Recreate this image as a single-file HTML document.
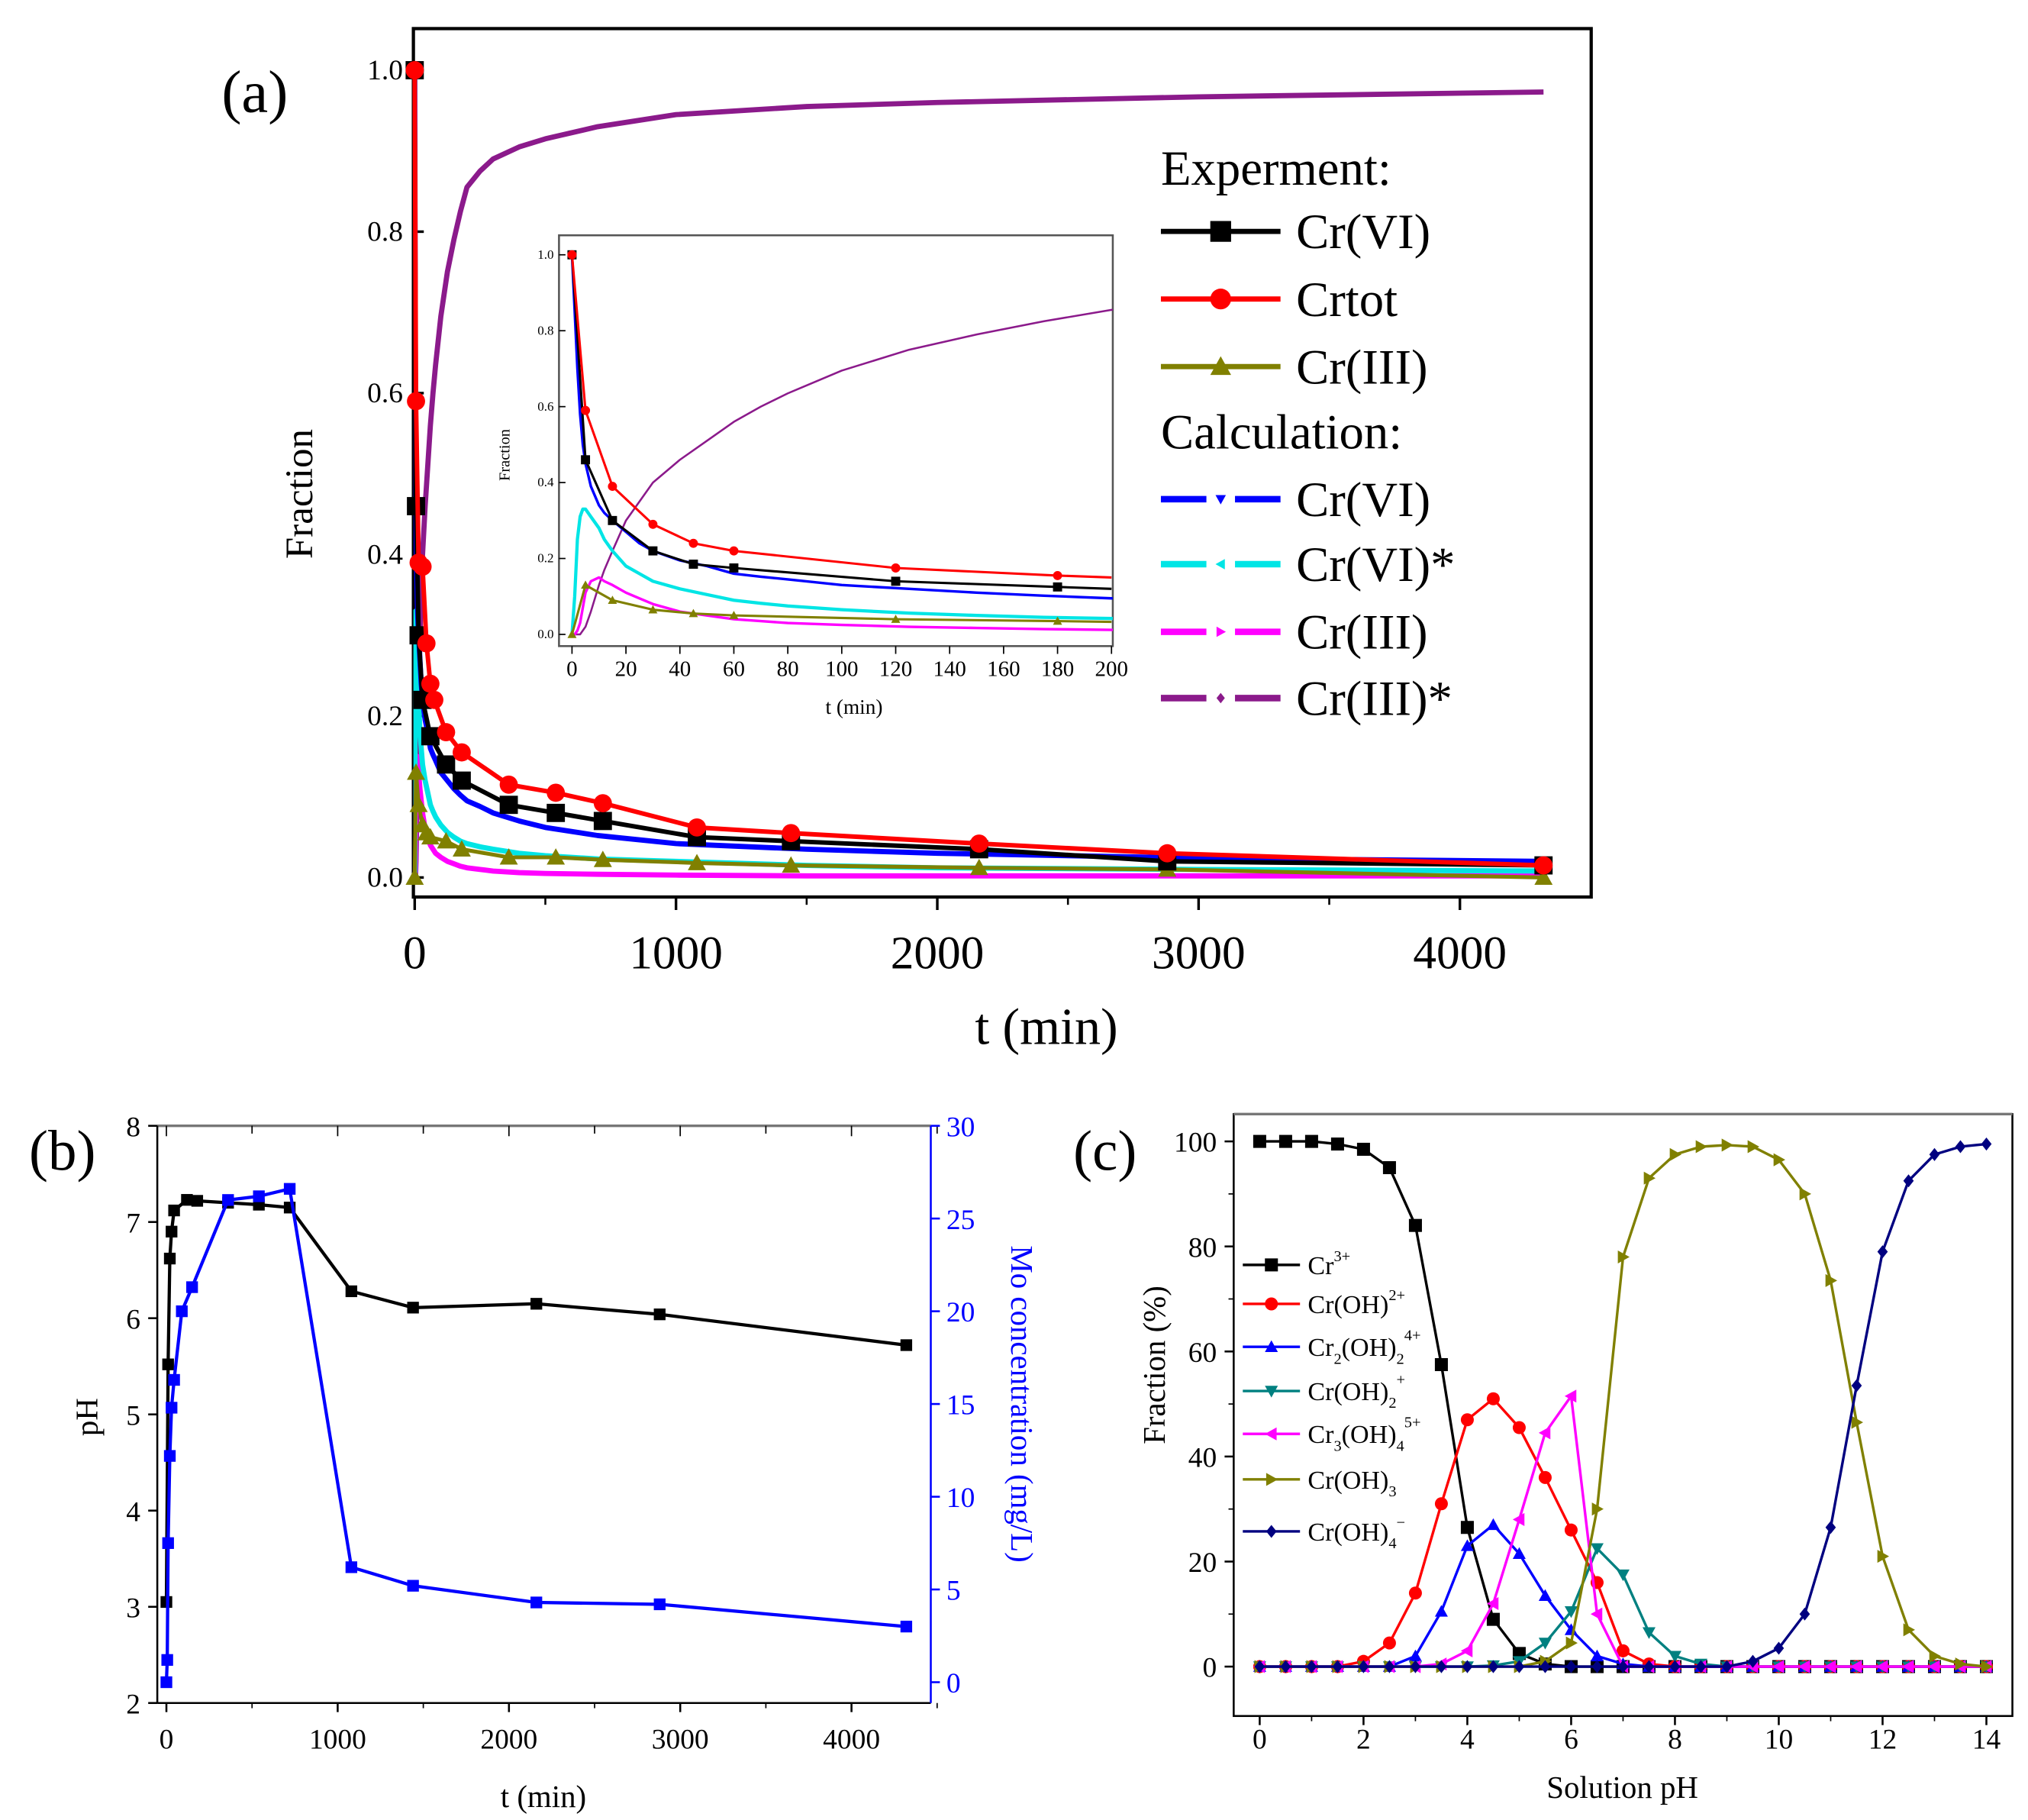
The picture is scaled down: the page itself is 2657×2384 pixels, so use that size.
<!DOCTYPE html>
<html><head><meta charset="utf-8"><style>
html,body{margin:0;padding:0;background:#fff}
svg{display:block}
text{font-family:"Liberation Serif",serif}
</style></head><body>
<svg id="fig" xmlns="http://www.w3.org/2000/svg" width="2657" height="2384" viewBox="0 0 1560 1400" preserveAspectRatio="none">
<rect width="1560" height="1400" fill="#fff"/>
<g id="pa"></g>
<g id="pb"></g>
<g id="pc"></g>
</svg>
<script>
// ---- Panel (a) data ----
const expT_VI = [0,5,15,30,60,120,180,360,540,720,1080,1440,2160,2880,4320];
const expVI = [1.0,0.46,0.30,0.22,0.175,0.14,0.12,0.09,0.08,0.07,0.05,0.045,0.035,0.02,0.015];
const expT_tot = [0,5,15,30,45,60,75,120,180,360,540,720,1080,1440,2160,2880,4320];
const expTot = [1.0,0.59,0.39,0.385,0.29,0.24,0.22,0.18,0.155,0.115,0.105,0.092,0.062,0.055,0.042,0.03,0.015];
const expT_III = [0,5,15,30,45,60,120,180,360,540,720,1080,1440,2160,2880,4320];
const expIII = [0,0.13,0.09,0.065,0.055,0.05,0.045,0.035,0.025,0.025,0.022,0.018,0.015,0.012,0.01,0];
const insetT_VI = [0,5,15,30,45,60,120,180];
const insetVI = [1.0,0.46,0.30,0.22,0.185,0.175,0.14,0.125];
const insetT_tot = [0,5,15,30,45,60,120,180];
const insetTot = [1.0,0.59,0.39,0.29,0.24,0.22,0.175,0.155];
const insetT_III = [0,5,15,30,45,60,120,180];
const insetIII = [0,0.13,0.09,0.065,0.055,0.05,0.04,0.035];
const calcT = [0,1,2,3,4,5,7,10,12,15,20,25,30,40,50,60,70,80,100,125,150,175,200,250,300,400,500,700,1000,1500,2000,3000,4320];
const calcVI = [1,0.85,0.7,0.58,0.5,0.45,0.39,0.34,0.32,0.3,0.27,0.24,0.22,0.195,0.18,0.16,0.152,0.145,0.13,0.12,0.11,0.102,0.095,0.088,0.08,0.07,0.062,0.052,0.042,0.035,0.03,0.024,0.02];
const calcVIs = [0,0.1,0.25,0.31,0.33,0.33,0.31,0.28,0.25,0.22,0.18,0.16,0.14,0.12,0.105,0.09,0.082,0.075,0.065,0.056,0.05,0.045,0.042,0.038,0.035,0.03,0.027,0.023,0.02,0.015,0.012,0.01,0.008];
const calcIII = [0,0,0.01,0.03,0.07,0.11,0.14,0.15,0.14,0.13,0.11,0.095,0.08,0.06,0.05,0.04,0.035,0.03,0.025,0.02,0.017,0.014,0.012,0.01,0.008,0.006,0.005,0.004,0.003,0.002,0.002,0.002,0.002];
const calcIIIs = [0,0,0,0,0.01,0.02,0.06,0.13,0.17,0.22,0.30,0.35,0.40,0.46,0.51,0.56,0.60,0.635,0.695,0.75,0.79,0.825,0.855,0.875,0.89,0.905,0.915,0.93,0.945,0.955,0.96,0.967,0.973];
const aXTicks = [0,1000,2000,3000,4000];
const aYTicks = [0,0.2,0.4,0.6,0.8,1.0];
const insetXTicks = [0,20,40,60,80,100,120,140,160,180,200];
const insetYTicks = [0,0.2,0.4,0.6,0.8,1.0];
// ---- Panel (b) data ----
const bT = [0,10,20,30,45,120,180,360,540,720,1080,1440,2160,2880,4320];
const bPH = [3.05,5.52,6.62,6.9,7.12,7.23,7.22,7.2,7.18,7.15,6.28,6.11,6.15,6.04,5.72];
const bMoT = [0,5,10,20,30,45,90,150,360,540,720,1080,1440,2160,2880,4320];
const bMo = [0,1.2,7.5,12.2,14.8,16.3,20,21.3,26,26.2,26.6,6.2,5.2,4.3,4.2,3.0];
const bXTicks = [0,1000,2000,3000,4000];
const bYTicks = [2,3,4,5,6,7,8];
const bY2Ticks = [0,5,10,15,20,25,30];
// ---- Panel (c) data ----
const cPH = [0,0.5,1,1.5,2,2.5,3,3.5,4,4.5,5,5.5,6,6.5,7,7.5,8,8.5,9,9.5,10,10.5,11,11.5,12,12.5,13,13.5,14];
const cCr3 = [100,100,100,99.5,98.5,95,84,57.5,26.5,9,2.5,0.5,0,0,0,0,0,0,0,0,0,0,0,0,0,0,0,0,0];
const cCrOH = [0,0,0,0,1,4.5,14,31,47,51,45.5,36,26,16,3,0.5,0,0,0,0,0,0,0,0,0,0,0,0,0];
const cCr2 = [0,0,0,0,0,0,2,10.5,23,27,21.5,13.5,7,2,0.5,0,0,0,0,0,0,0,0,0,0,0,0,0,0];
const cCrOH2 = [0,0,0,0,0,0,0,0,0,0.2,1,4.5,10.5,22.5,17.5,6.5,2,0.5,0,0,0,0,0,0,0,0,0,0,0];
const cCr3OH4 = [0,0,0,0,0,0,0,0.5,3,12,28,44.5,51.5,10,0,0,0,0,0,0,0,0,0,0,0,0,0,0,0];
const cCrOH3 = [0,0,0,0,0,0,0,0,0,0,0,1,4.5,30,78,93,97.5,99,99.3,99,96.5,90,73.5,46.5,21,7,2,0.5,0];
const cCrOH4 = [0,0,0,0,0,0,0,0,0,0,0,0,0,0,0,0,0,0,0,1,3.5,10,26.5,53.5,79,92.5,97.5,99,99.5];
const cXTicks = [0,2,4,6,8,10,12,14];
const cYTicks = [0,20,40,60,80,100];

const NS='http://www.w3.org/2000/svg';
function mk(parent,tag,attrs,txt){const e=document.createElementNS(NS,tag);for(const k in attrs)e.setAttribute(k,attrs[k]);if(txt!==undefined)e.textContent=txt;parent.appendChild(e);return e;}
function marker(g,shape,x,y,s,color){
  let e;
  if(shape==='sq') e=mk(g,'rect',{x:x-s,y:y-s,width:2*s,height:2*s,fill:color});
  else if(shape==='ci') e=mk(g,'circle',{cx:x,cy:y,r:s,fill:color});
  else if(shape==='up') e=mk(g,'polygon',{points:`${x},${y-s} ${x-s},${y+s*0.8} ${x+s},${y+s*0.8}`,fill:color});
  else if(shape==='dn') e=mk(g,'polygon',{points:`${x},${y+s} ${x-s},${y-s*0.8} ${x+s},${y-s*0.8}`,fill:color});
  else if(shape==='lt') e=mk(g,'polygon',{points:`${x-s},${y} ${x+s*0.8},${y-s} ${x+s*0.8},${y+s}`,fill:color});
  else if(shape==='rt') e=mk(g,'polygon',{points:`${x+s},${y} ${x-s*0.8},${y-s} ${x-s*0.8},${y+s}`,fill:color});
  else if(shape==='di') e=mk(g,'polygon',{points:`${x},${y-s} ${x+s*0.8},${y} ${x},${y+s} ${x-s*0.8},${y}`,fill:color});
  
  
  return e;
}
function series(g,xs,ys,fx,fy,color,w,shape,ms,name,clip){
  const sg=mk(g,'g',clip?{'clip-path':clip}:{});
  
  
  const pts=xs.map((x,i)=>fx(x).toFixed(2)+','+fy(ys[i]).toFixed(2)).join(' ');
  const pl=mk(sg,'polyline',{points:pts,fill:'none',stroke:color,'stroke-width':w,'stroke-linejoin':'round'});
  
  
  if(shape) xs.forEach((x,i)=>marker(sg,shape,fx(x),fy(ys[i]),ms,color));
  return sg;
}
function txt(g,x,y,s,size,opts,name){
  const t=mk(g,'text',Object.assign({x:x,y:y,'font-size':size},opts||{}),s);
  
  
  return t;
}

// ================= Panel A =================
(function(){
  const g=document.getElementById('pa');
  const X=t=>319+t*(1123-319)/4000, Y=v=>675-v*(675-54);
  const box=mk(g,'rect',{x:318,y:22,width:906,height:668,fill:'none',stroke:'#000','stroke-width':2.5});
  
  
  aXTicks.forEach(t=>{mk(g,'line',{x1:X(t),x2:X(t),y1:690,y2:700,stroke:'#000','stroke-width':2});txt(g,X(t),745,String(t),36,{'text-anchor':'middle'},'x-tick-label');});
  [500,1500,2500,3500].forEach(t=>mk(g,'line',{x1:X(t),x2:X(t),y1:690,y2:696,stroke:'#000','stroke-width':1.5}));
  aYTicks.forEach(v=>{mk(g,'line',{x1:318,x2:326,y1:Y(v),y2:Y(v),stroke:'#000','stroke-width':2});txt(g,310,Y(v)+7,v.toFixed(1),22,{'text-anchor':'end'},'y-tick-label');});
  txt(g,805,803,'t (min)',40,{'text-anchor':'middle'},'x-axis-title');
  txt(g,0,0,'Fraction',30,{'text-anchor':'middle',transform:'translate(240,380) rotate(-90)'},'y-axis-title');
  txt(g,196,86,'(a)',46,{'text-anchor':'middle'},'panel-label-a');
  const cl=mk(g,'clipPath',{id:'clipA'});mk(cl,'rect',{x:318,y:22,width:906,height:668});
  series(g,calcT,calcIIIs,X,Y,'#8B1A8B',4,null,0,'calc-cr3-star','url(#clipA)');
  series(g,calcT,calcIII,X,Y,'#ff00ff',4,null,0,'calc-cr3','url(#clipA)');
  series(g,calcT,calcVIs,X,Y,'#00e5e5',4,null,0,'calc-cr6-star','url(#clipA)');
  series(g,calcT,calcVI,X,Y,'#0000ff',4,null,0,'calc-cr6','url(#clipA)');
  series(g,expT_III,expIII,X,Y,'#808000',3,'up',7,'exp-cr3');
  series(g,expT_VI,expVI,X,Y,'#000',3.5,'sq',7,'exp-cr6');
  series(g,expT_tot,expTot,X,Y,'#ff0000',3.5,'ci',7,'exp-crtot');
  const lg=mk(g,'g',{});
  txt(lg,893,142,'Experment:',38,{},'legend-heading');
  txt(lg,893,345,'Calculation:',38,{},'legend-heading');
  const items=[[178,'#000','sq','Cr(VI)',false],[230,'#ff0000','ci','Crtot',false],[282,'#808000','up','Cr(III)',false],[384,'#0000ff','dn','Cr(VI)',true],[434,'#00e5e5','lt','Cr(VI)*',true],[486,'#ff00ff','rt','Cr(III)',true],[537,'#8B1A8B','di','Cr(III)*',true]];
  items.forEach(it=>{const e=mk(lg,'g',{});
    if(it[4]){mk(e,'line',{x1:893,x2:928,y1:it[0],y2:it[0],stroke:it[1],'stroke-width':5});mk(e,'line',{x1:950,x2:985,y1:it[0],y2:it[0],stroke:it[1],'stroke-width':5});marker(e,it[2],939,it[0],4,it[1]);}
    else{mk(e,'line',{x1:893,x2:985,y1:it[0],y2:it[0],stroke:it[1],'stroke-width':4});marker(e,it[2],939,it[0],8,it[1]);}
    txt(e,997,it[0]+13,it[3],38,{},'legend-text');});
  const ig=mk(g,'g',{});
  mk(ig,'rect',{x:375,y:170,width:500,height:390,fill:'#fff'});
  const XI=t=>440+t*(855-440)/200, YI=v=>488-v*(488-196);
  const ib=mk(ig,'rect',{x:430,y:181,width:426,height:316,fill:'none',stroke:'#555','stroke-width':1.5});
  
  insetXTicks.forEach(t=>{mk(ig,'line',{x1:XI(t),x2:XI(t),y1:497,y2:503,stroke:'#000','stroke-width':1});txt(ig,XI(t),520,String(t),17,{'text-anchor':'middle'},'inset-x-tick');});
  insetYTicks.forEach(v=>{mk(ig,'line',{x1:430,x2:435,y1:YI(v),y2:YI(v),stroke:'#000','stroke-width':1});txt(ig,426,YI(v)+3,v.toFixed(1),10,{'text-anchor':'end'},'inset-y-tick');});
  txt(ig,657,549,'t (min)',16,{'text-anchor':'middle'},'inset-x-title');
  txt(ig,0,0,'Fraction',12,{'text-anchor':'middle',transform:'translate(392,350) rotate(-90)'},'inset-y-title');
  const ci=mk(ig,'clipPath',{id:'clipI'});mk(ci,'rect',{x:430,y:181,width:426,height:316});
  series(ig,calcT,calcIIIs,XI,YI,'#8B1A8B',1.5,null,0,'inset-calc-cr3-star','url(#clipI)');
  series(ig,calcT,calcIII,XI,YI,'#ff00ff',2,null,0,'inset-calc-cr3','url(#clipI)');
  series(ig,calcT,calcVIs,XI,YI,'#00e5e5',2.5,null,0,'inset-calc-cr6-star','url(#clipI)');
  series(ig,calcT,calcVI,XI,YI,'#0000ff',2,null,0,'inset-calc-cr6','url(#clipI)');
  series(ig,insetT_III.concat([200]),insetIII.concat([0.033]),XI,YI,'#808000',1.8,null,0,'inset-exp-cr3','url(#clipI)');
  series(ig,insetT_VI.concat([200]),insetVI.concat([0.12]),XI,YI,'#000',1.8,null,0,'inset-exp-cr6','url(#clipI)');
  series(ig,insetT_tot.concat([200]),insetTot.concat([0.15]),XI,YI,'#ff0000',1.8,null,0,'inset-exp-crtot','url(#clipI)');
  insetT_III.forEach((t,i)=>marker(ig,'up',XI(t),YI(insetIII[i]),3.5,'#808000'));
  insetT_VI.forEach((t,i)=>marker(ig,'sq',XI(t),YI(insetVI[i]),3.5,'#000'));
  insetT_tot.forEach((t,i)=>marker(ig,'ci',XI(t),YI(insetTot[i]),3.5,'#ff0000'));
})();

// ================= Panel B =================
(function(){
  const g=document.getElementById('pb');
  const X=t=>128+t*(655-128)/4000, Y=v=>1310-(v-2)*(1310-866)/6, Y2=v=>1294-v*(1294-866)/30;
  mk(g,'line',{x1:121,x2:716,y1:866,y2:866,stroke:'#777','stroke-width':2});
  mk(g,'line',{x1:121,x2:121,y1:866,y2:1310,stroke:'#000','stroke-width':1.5});
  mk(g,'line',{x1:121,x2:716,y1:1310,y2:1310,stroke:'#000','stroke-width':1.5});
  const ra=mk(g,'line',{x1:716,x2:716,y1:866,y2:1310,stroke:'#0000ff','stroke-width':1.5});
  
  bXTicks.forEach(t=>{mk(g,'line',{x1:X(t),x2:X(t),y1:1310,y2:1317,stroke:'#000','stroke-width':1.5});txt(g,X(t),1345,String(t),22,{'text-anchor':'middle'},'x-tick-label');});
  [500,1500,2500,3500,4500].forEach(t=>{mk(g,'line',{x1:X(t),x2:X(t),y1:1310,y2:1314,stroke:'#000'});mk(g,'line',{x1:X(t),x2:X(t),y1:866,y2:872,stroke:'#000'});});
  bXTicks.forEach(t=>mk(g,'line',{x1:X(t),x2:X(t),y1:866,y2:874,stroke:'#000'}));
  bYTicks.forEach(v=>{mk(g,'line',{x1:114,x2:121,y1:Y(v),y2:Y(v),stroke:'#000','stroke-width':1.5});txt(g,108,Y(v)+8,String(v),22,{'text-anchor':'end'},'y-tick-label');});
  bY2Ticks.forEach(v=>{mk(g,'line',{x1:716,x2:723,y1:Y2(v),y2:Y2(v),stroke:'#0000ff','stroke-width':1.5});txt(g,728,Y2(v)+8,String(v),22,{fill:'#0000ff'},'y2-tick-label');});
  txt(g,418,1390,'t (min)',24,{'text-anchor':'middle'},'x-axis-title');
  txt(g,0,0,'pH',24,{'text-anchor':'middle',transform:'translate(75,1090) rotate(-90)'},'y-axis-title');
  txt(g,0,0,'Mo concentration (mg/L)',24,{'text-anchor':'middle',fill:'#0000ff',transform:'translate(778,1080) rotate(90)'},'y2-axis-title');
  txt(g,48,900,'(b)',44,{'text-anchor':'middle'},'panel-label-b');
  series(g,bT,bPH,X,Y,'#000',2.5,'sq',4.5,'ph-series');
  series(g,bMoT,bMo,X,Y2,'#0000ff',2.5,'sq',4.5,'mo-series');
})();

// ================= Panel C =================
(function(){
  const g=document.getElementById('pc');
  const X=p=>969+p*(1528-969)/14, Y=v=>1282-v*(1282-878)/100;
  const fr=mk(g,'rect',{x:949,y:857,width:599,height:463,fill:'none',stroke:'#000','stroke-width':1.5});
  
  mk(g,'line',{x1:949,x2:1548,y1:857,y2:857,stroke:'#777','stroke-width':2});
  cXTicks.forEach(p=>{mk(g,'line',{x1:X(p),x2:X(p),y1:1320,y2:1327,stroke:'#000','stroke-width':1.5});txt(g,X(p),1345,String(p),22,{'text-anchor':'middle'},'x-tick-label');});
  [1,3,5,7,9,11,13].forEach(p=>mk(g,'line',{x1:X(p),x2:X(p),y1:1320,y2:1324,stroke:'#000'}));
  cYTicks.forEach(v=>{mk(g,'line',{x1:942,x2:949,y1:Y(v),y2:Y(v),stroke:'#000','stroke-width':1.5});txt(g,936,Y(v)+8,String(v),22,{'text-anchor':'end'},'y-tick-label');});
  [10,30,50,70,90].forEach(v=>mk(g,'line',{x1:945,x2:949,y1:Y(v),y2:Y(v),stroke:'#000'}));
  txt(g,1248,1383,'Solution pH',24,{'text-anchor':'middle'},'x-axis-title');
  txt(g,0,0,'Fraction (%)',24,{'text-anchor':'middle',transform:'translate(896,1050) rotate(-90)'},'y-axis-title');
  txt(g,850,900,'(c)',44,{'text-anchor':'middle'},'panel-label-c');
  const S=[[cCr3,'#000','sq','cr3'],[cCrOH,'#ff0000','ci','croh'],[cCr2,'#0000ff','up','cr2oh2'],[cCrOH2,'#008080','dn','croh2'],[cCr3OH4,'#ff00ff','lt','cr3oh4'],[cCrOH3,'#808000','rt','croh3'],[cCrOH4,'#000080','di','croh4']];
  S.forEach(s=>series(g,cPH,s[0],X,Y,s[1],2,s[2],5,'series-'+s[3]));
  const lg=mk(g,'g',{});
  const L=[973,1003,1036,1070,1103,1138,1178];
  L.forEach((ly,i)=>{const e=mk(lg,'g',{});
    mk(e,'line',{x1:956,x2:1000,y1:ly,y2:ly,stroke:S[i][1],'stroke-width':2});marker(e,S[i][2],978,ly,5,S[i][1]);
    let label;
    if(i===2) label='Cr<tspan font-size="12" dy="6">2</tspan><tspan dy="-6">(OH)</tspan><tspan font-size="12" dy="6">2</tspan><tspan font-size="12" dy="-18">4+</tspan>';
    else if(i===4) label='Cr<tspan font-size="12" dy="6">3</tspan><tspan dy="-6">(OH)</tspan><tspan font-size="12" dy="6">4</tspan><tspan font-size="12" dy="-18">5+</tspan>';
    else if(i===0) label='Cr<tspan font-size="12" dy="-10">3+</tspan>';
    else if(i===1) label='Cr(OH)<tspan font-size="12" dy="-10">2+</tspan>';
    else if(i===3) label='Cr(OH)<tspan font-size="12" dy="6">2</tspan><tspan font-size="12" dy="-18">+</tspan>';
    else if(i===5) label='Cr(OH)<tspan font-size="12" dy="6">3</tspan>';
    else label='Cr(OH)<tspan font-size="12" dy="6">4</tspan><tspan font-size="12" dy="-16">\u2212</tspan>';
    const t=txt(e,1006,ly+7,'',20,{},'legend-text');t.innerHTML=label;});
})();
</script>
</body></html>
